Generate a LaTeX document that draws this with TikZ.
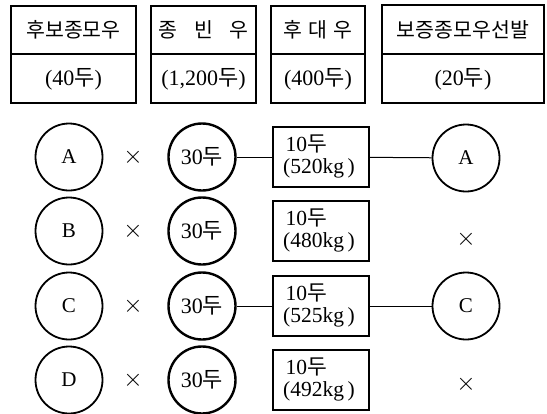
\documentclass[tikz,border=0pt]{standalone}
\usepackage{fontspec}
\setmainfont{Liberation Serif}
\newfontfamily\kr{Noto Sans CJK KR}
\begin{document}
\begin{tikzpicture}[x=1pt,y=-1pt,
  hbox/.style={draw,line width=1.4pt},
  htext/.style={font=\kr\fontsize{20.5}{22}\selectfont},
  hnum/.style={font=\fontsize{22}{24}\selectfont},
  pcirc/.style={draw,circle,line width=1.8pt,minimum size=67pt,inner sep=0pt,font=\fontsize{21}{23}\selectfont},
  scirc/.style={draw,circle,line width=2.4pt,minimum size=67pt,inner sep=0pt,font=\fontsize{22}{24}\selectfont},
  obox/.style={draw,line width=1.4pt,minimum width=96pt,minimum height=60pt,inner sep=0pt},
  otext/.style={align=left,inner sep=0pt,font=\fontsize{21.5}{22}\selectfont},
  xmark/.style={font=\fontsize{23}{23}\selectfont},
  link/.style={line width=1pt}]
\useasboundingbox (0,0) rectangle (547,413);
% header boxes
\draw[hbox] (11,6) rectangle (136,103); \draw[hbox] (11,54) -- (136,54);
\draw[hbox] (151,6) rectangle (256,103); \draw[hbox] (151,54) -- (256,54);
\draw[hbox] (271,6) rectangle (365,103); \draw[hbox] (271,54) -- (365,54);
\draw[hbox] (382,5) rectangle (544,103); \draw[hbox] (382,54) -- (544,54);
\node[htext] (h1) at (73.5,30) {후보종모우};
\node[htext] (h2) at (203.5,30) {종\hspace{0.8em}빈\hspace{0.8em}우};
\node[htext] (h3) at (318,30) {후\hspace{0.3em}대\hspace{0.3em}우};
\node[htext] (h4) at (463,30) {보증종모우선발};
\node[hnum] (n1) at (73.5,79) {(40{\kr 두})};
\node[hnum] (n2) at (203.5,79) {(1,200{\kr 두})};
\node[hnum] (n3) at (318,79) {(400{\kr 두})};
\node[hnum] (n4) at (463,79) {(20{\kr 두})};
% rows
\foreach \r/\L/\y/\kg in {1/A/157/520,2/B/231/480,3/C/306/525,4/D/380/492}{
  \node[pcirc] (p\r) at (69,\y) {\L};
  \node[xmark] (x\r) at (133,\y) {$\times$};
  \node[scirc] (s\r) at (202,\y) {30{\kr 두}};
  \node[obox] (o\r) at (321,\y) {};
  \node[otext] (t\r) at ([xshift=-2pt,yshift=1pt]o\r.center) {\hspace{2.5pt}10{\kr 두}\\(\kg kg\,)};
}
\node[pcirc] (r1) at (466,158) {A};
\node[pcirc] (r3) at (466,306) {C};
\node[xmark] (r2) at (466,239) {$\times$};
\node[xmark] (r4) at (466,384) {$\times$};
\draw[link] (s1) -- (o1); \draw[link] (o1) -- (r1);
\draw[link] (s3) -- (o3); \draw[link] (o3) -- (r3);
\end{tikzpicture}
\end{document}
